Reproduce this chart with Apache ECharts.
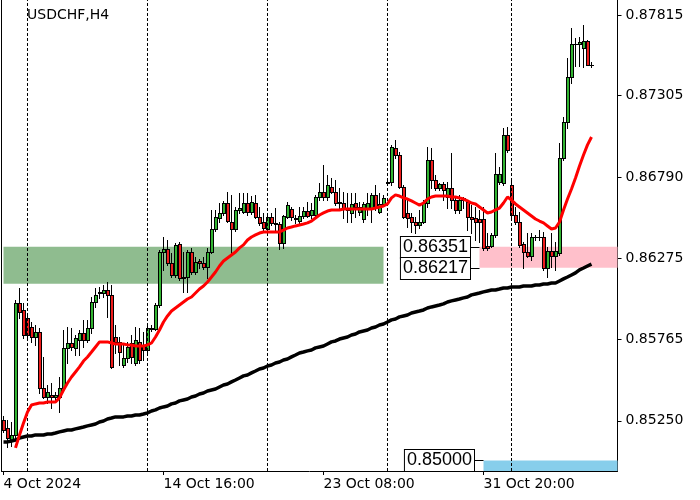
<!DOCTYPE html>
<html><head><meta charset="utf-8">
<script src="https://cdn.jsdelivr.net/npm/echarts@6/dist/echarts.min.js"></script>
<style>html,body{margin:0;padding:0;background:#fff}#c{width:700px;height:500px}</style>
</head><body><div id="c"></div>
<script>
const symbolName = 'USDCHF,H4';

const opens = [
0.85256,0.85205,0.85129,0.85161,0.85995,0.85951,0.85900,0.85843,0.85780,0.85812,
0.85458,0.85401,0.85414,0.85401,0.85401,0.85458,0.85711,0.85742,0.85711,0.85761,
0.85805,0.85761,0.85837,0.86001,0.86065,0.86058,0.86077,0.86046,0.85780,0.85749,
0.85603,0.85647,0.85742,0.85616,0.85749,0.85730,0.85698,0.85831,0.85831,0.85982,
0.86317,0.86336,0.86248,0.86172,0.86368,0.86159,0.86159,0.86317,0.86191,0.86260,
0.86248,0.86223,0.86317,0.86463,0.86532,0.86564,0.86627,0.86507,0.86463,0.86583,
0.86570,0.86627,0.86570,0.86627,0.86539,0.86507,0.86463,0.86539,0.86501,0.86494,
0.86374,0.86539,0.86589,0.86532,0.86513,0.86545,0.86576,0.86551,0.86551,0.86665,
0.86697,0.86665,0.86728,0.86697,0.86633,0.86627,0.86595,0.86564,0.86627,0.86570,
0.86526,0.86595,0.86595,0.86678,0.86570,0.86621,0.86753,0.86760,0.86975,0.86930,
0.86728,0.86564,0.86539,0.86507,0.86488,0.86507,0.86627,0.86899,0.86772,0.86722,
0.86747,0.86665,0.86722,0.86646,0.86583,0.86659,0.86633,0.86539,0.86532,0.86526,
0.86526,0.86355,0.86355,0.86425,0.86760,0.86753,0.87057,0.86741,0.86551,0.86507,
0.86368,0.86317,0.86292,0.86412,0.86412,0.86412,0.86216,0.86324,0.86292,0.86311,
0.86911,0.87139,0.87423,0.87632,0.87632,0.87607,0.87651,0.87499];

const highs = [
0.85281,0.85256,0.85243,0.86014,0.86090,0.85995,0.85932,0.85875,0.85856,0.85837,
0.85654,0.85477,0.85489,0.85433,0.85527,0.85824,0.85843,0.85837,0.85793,0.85824,
0.85888,0.85888,0.86033,0.86090,0.86096,0.86109,0.86128,0.86109,0.85856,0.85780,
0.85730,0.85749,0.85793,0.85843,0.85837,0.85812,0.85869,0.85856,0.85995,0.86330,
0.86412,0.86393,0.86311,0.86374,0.86381,0.86317,0.86330,0.86343,0.86286,0.86273,
0.86286,0.86343,0.86583,0.86583,0.86627,0.86640,0.86697,0.86678,0.86602,0.86690,
0.86690,0.86690,0.86671,0.86678,0.86602,0.86564,0.86551,0.86564,0.86595,0.86507,
0.86551,0.86633,0.86602,0.86551,0.86602,0.86602,0.86633,0.86627,0.86678,0.86753,
0.86867,0.86804,0.86785,0.86772,0.86722,0.86697,0.86690,0.86690,0.86690,0.86633,
0.86633,0.86690,0.86690,0.86741,0.86690,0.86678,0.86772,0.86994,0.87025,0.86949,
0.86741,0.86646,0.86564,0.86539,0.86583,0.86646,0.86981,0.86975,0.86804,0.86753,
0.86760,0.86760,0.86943,0.86665,0.86678,0.86665,0.86646,0.86614,0.86602,0.86583,
0.86602,0.86437,0.86437,0.86943,0.86855,0.87101,0.87107,0.86772,0.86602,0.86570,
0.86381,0.86437,0.86437,0.86425,0.86456,0.86444,0.86349,0.86437,0.86381,0.87006,
0.87171,0.87543,0.87733,0.87670,0.87676,0.87752,0.87657,0.87518];

const lows = [
0.85180,0.85085,0.85091,0.85129,0.85900,0.85774,0.85761,0.85749,0.85730,0.85426,
0.85395,0.85363,0.85331,0.85369,0.85306,0.85445,0.85616,0.85698,0.85666,0.85666,
0.85717,0.85749,0.85805,0.85970,0.86027,0.86033,0.85907,0.85584,0.85679,0.85603,
0.85591,0.85622,0.85616,0.85603,0.85616,0.85635,0.85685,0.85818,0.85824,0.85970,
0.86204,0.86235,0.86159,0.86159,0.86140,0.86065,0.86065,0.86178,0.86178,0.86216,
0.86210,0.86153,0.86311,0.86450,0.86507,0.86551,0.86507,0.86311,0.86450,0.86564,
0.86564,0.86551,0.86557,0.86532,0.86488,0.86444,0.86444,0.86488,0.86444,0.86336,
0.86343,0.86532,0.86520,0.86501,0.86501,0.86532,0.86539,0.86532,0.86539,0.86646,
0.86646,0.86646,0.86690,0.86614,0.86595,0.86532,0.86507,0.86507,0.86539,0.86551,
0.86507,0.86551,0.86507,0.86583,0.86564,0.86614,0.86741,0.86741,0.86911,0.86722,
0.86532,0.86475,0.86444,0.86437,0.86469,0.86501,0.86602,0.86722,0.86709,0.86709,
0.86646,0.86595,0.86595,0.86564,0.86564,0.86595,0.86456,0.86437,0.86393,0.86381,
0.86330,0.86330,0.86349,0.86412,0.86747,0.86741,0.86949,0.86539,0.86494,0.86349,
0.86216,0.86286,0.86267,0.86393,0.86393,0.86204,0.86159,0.86223,0.86204,0.86298,
0.86899,0.87101,0.87385,0.87493,0.87493,0.87487,0.87499,0.87487];

const closes = [
0.85192,0.85142,0.85161,0.85995,0.85938,0.85793,0.85793,0.85780,0.85812,0.85458,
0.85401,0.85433,0.85401,0.85414,0.85458,0.85711,0.85742,0.85717,0.85774,0.85805,
0.85761,0.85837,0.86001,0.86046,0.86058,0.86077,0.86046,0.85591,0.85749,0.85685,
0.85647,0.85717,0.85654,0.85761,0.85635,0.85698,0.85837,0.85837,0.85982,0.86317,
0.86336,0.86248,0.86172,0.86362,0.86153,0.86153,0.86317,0.86191,0.86254,0.86248,
0.86223,0.86317,0.86463,0.86539,0.86564,0.86627,0.86513,0.86463,0.86583,0.86595,
0.86627,0.86570,0.86633,0.86539,0.86501,0.86469,0.86539,0.86501,0.86494,0.86374,
0.86545,0.86614,0.86539,0.86526,0.86545,0.86576,0.86545,0.86583,0.86665,0.86697,
0.86665,0.86741,0.86697,0.86627,0.86627,0.86589,0.86583,0.86621,0.86602,0.86602,
0.86621,0.86627,0.86678,0.86595,0.86621,0.86659,0.86760,0.86981,0.86930,0.86728,
0.86539,0.86532,0.86507,0.86488,0.86507,0.86627,0.86899,0.86772,0.86722,0.86747,
0.86709,0.86722,0.86646,0.86583,0.86646,0.86646,0.86539,0.86526,0.86507,0.86507,
0.86343,0.86343,0.86425,0.86810,0.86810,0.87057,0.86962,0.86551,0.86507,0.86362,
0.86317,0.86292,0.86412,0.86412,0.86412,0.86216,0.86324,0.86292,0.86324,0.86911,
0.87139,0.87423,0.87632,0.87632,0.87645,0.87651,0.87499,0.87502];

// red moving average (first bars have no value)
const maFast = [
null,null,null,0.85079,0.85161,0.85237,0.85306,0.85350,0.85357,0.85363,
0.85363,0.85369,0.85369,0.85369,0.85395,0.85445,0.85489,0.85527,0.85559,0.85591,
0.85628,0.85654,0.85685,0.85717,0.85749,0.85749,0.85749,0.85742,0.85736,0.85736,
0.85736,0.85730,0.85730,0.85723,0.85723,0.85723,0.85730,0.85742,0.85780,0.85824,
0.85875,0.85913,0.85944,0.85963,0.85982,0.86001,0.86020,0.86033,0.86058,0.86083,
0.86102,0.86128,0.86159,0.86191,0.86229,0.86260,0.86279,0.86298,0.86317,0.86343,
0.86362,0.86393,0.86412,0.86425,0.86437,0.86444,0.86444,0.86444,0.86444,0.86444,
0.86456,0.86469,0.86475,0.86482,0.86488,0.86494,0.86501,0.86513,0.86532,0.86551,
0.86564,0.86576,0.86583,0.86583,0.86583,0.86589,0.86589,0.86589,0.86589,0.86589,
0.86589,0.86589,0.86589,0.86595,0.86602,0.86608,0.86621,0.86659,0.86678,0.86671,
0.86659,0.86652,0.86640,0.86627,0.86614,0.86627,0.86652,0.86665,0.86671,0.86671,
0.86671,0.86671,0.86665,0.86665,0.86659,0.86652,0.86640,0.86627,0.86621,0.86602,
0.86583,0.86564,0.86570,0.86583,0.86595,0.86627,0.86665,0.86646,0.86621,0.86602,
0.86583,0.86564,0.86545,0.86526,0.86513,0.86501,0.86482,0.86463,0.86469,0.86507,
0.86583,0.86652,0.86715,0.86785,0.86861,0.86930,0.86994,0.87044];

// black moving average
const maSlow = [
0.85117,0.85117,0.85123,0.85129,0.85142,0.85148,0.85154,0.85154,0.85161,0.85161,
0.85161,0.85167,0.85167,0.85173,0.85180,0.85186,0.85192,0.85192,0.85199,0.85205,
0.85211,0.85218,0.85224,0.85230,0.85243,0.85249,0.85262,0.85268,0.85275,0.85275,
0.85275,0.85281,0.85281,0.85287,0.85287,0.85293,0.85300,0.85312,0.85319,0.85331,
0.85338,0.85344,0.85357,0.85363,0.85376,0.85382,0.85388,0.85401,0.85407,0.85420,
0.85426,0.85439,0.85445,0.85451,0.85464,0.85477,0.85483,0.85496,0.85508,0.85521,
0.85534,0.85540,0.85553,0.85565,0.85578,0.85584,0.85597,0.85603,0.85616,0.85622,
0.85635,0.85641,0.85654,0.85666,0.85679,0.85685,0.85692,0.85698,0.85711,0.85717,
0.85723,0.85736,0.85749,0.85755,0.85767,0.85774,0.85780,0.85793,0.85799,0.85812,
0.85818,0.85824,0.85837,0.85843,0.85856,0.85862,0.85875,0.85888,0.85894,0.85907,
0.85913,0.85919,0.85932,0.85938,0.85944,0.85951,0.85963,0.85970,0.85976,0.85982,
0.85989,0.86001,0.86008,0.86014,0.86020,0.86027,0.86033,0.86046,0.86052,0.86058,
0.86065,0.86071,0.86077,0.86077,0.86083,0.86090,0.86090,0.86096,0.86096,0.86096,
0.86102,0.86102,0.86102,0.86109,0.86109,0.86115,0.86115,0.86121,0.86121,0.86134,
0.86147,0.86159,0.86172,0.86185,0.86204,0.86216,0.86229,0.86241];

const emptyBarsRight = 6;
const xTickBars = [0, 40, 80, 120];
const xTickLabels = ['4 Oct 2024', '14 Oct 16:00', '23 Oct 08:00', '31 Oct 20:00'];
const weekStartBars = [6, 36, 66, 96, 127];
const yTickValues = [0.85250, 0.85765, 0.86275, 0.86790, 0.87305, 0.87815];
const yMin = 0.84933, yMax = 0.87910;
const bidPrice = 0.87502;

// rectangles (bar index from/to, price top/bottom); a "to" beyond the last bar means open-ended
const zoneFromBar = [0, 119, 120];
const zoneToBar = [95, 170, 170];
const zoneTop = [0.86351, 0.86351, 0.85000];
const zoneBottom = [0.86117, 0.86217, 0.84800];
const zoneColors = ['#8fbc8f', '#ffc0cb', '#87ceeb'];

// price tags
const tagBars = [119, 119, 120];
const tagPrices = [0.86351, 0.86217, 0.85000];

const categories = Array.from({length: opens.length + emptyBarsRight}, (_, i) => String(i));
const candleData = opens.map((o, i) => [i, o, closes[i], lows[i], highs[i]]);
const zoneData = zoneFromBar.map((f, i) => [f, zoneToBar[i], zoneTop[i], zoneBottom[i]]);
const tagData = tagBars.map((b, i) => [b, tagPrices[i]]);

const FONT = 'DejaVu Sans';
const BULL = '#32b432', BEAR = '#ee1c1c';
const chart = echarts.init(document.getElementById('c'), null, {renderer: 'canvas'});
chart.setOption({
  animation: false,
  backgroundColor: '#fff',
  title: {text: symbolName, left: 27, top: 8, padding: 0,
    textStyle: {fontFamily: FONT, fontSize: 14, fontWeight: 'normal', color: '#000'}},
  grid: {left: 1.5, right: 82.5, top: 0, bottom: 29, containLabel: false, outerBoundsMode: 'none'},
  xAxis: {
    type: 'category', data: categories, boundaryGap: true,
    axisLine: {show: true, onZero: false, lineStyle: {color: '#000', width: 1}},
    axisTick: {show: true, alignWithLabel: true, interval: (i) => xTickBars.includes(i), length: 4, lineStyle: {color: '#000'}},
    axisLabel: {interval: (i) => xTickBars.includes(i),
      formatter: (v, i) => xTickLabels[xTickBars.indexOf(i)] || '',
      align: 'left', margin: 6, color: '#000', fontFamily: FONT, fontSize: 14},
    splitLine: {show: false}
  },
  yAxis: [{
    type: 'value', position: 'right', min: yMin, max: yMax, scale: true,
    axisLine: {show: true, lineStyle: {color: '#000', width: 1}},
    axisTick: {show: true, customValues: yTickValues, length: 4, lineStyle: {color: '#000'}},
    axisLabel: {customValues: yTickValues, formatter: (v) => v.toFixed(5), color: '#000', fontFamily: FONT, fontSize: 14, margin: 8},
    splitLine: {show: false}
  }, {
    type: 'value', position: 'left', min: yMin, max: yMax, scale: true,
    axisLine: {show: true, lineStyle: {color: '#000', width: 1}},
    axisTick: {show: false}, axisLabel: {show: false}, splitLine: {show: false}
  }],
  series: [
    {
      type: 'custom', name: 'zones', z: 1, data: zoneData,
      encode: {x: [0, 1], y: [2, 3]},
      renderItem: (params, api) => {
        const a = api.coord([api.value(0), api.value(2)]);
        const b = api.coord([api.value(1), api.value(3)]);
        const cs = params.coordSys;
        const r = echarts.graphic.clipRectByRect(
          {x: a[0], y: a[1], width: b[0] - a[0], height: b[1] - a[1]},
          {x: cs.x, y: cs.y, width: cs.width, height: cs.height});
        return r && {type: 'rect', shape: r, style: {fill: zoneColors[params.dataIndex]}};
      }
    },
    {
      type: 'line', name: 'markers', z: 2, data: [], silent: true,
      markLine: {
        silent: true, symbol: ['none', 'none'], animation: false,
        data: weekStartBars.map(b => ({xAxis: b, lineStyle: {color: '#000', type: [3, 2], width: 1}, label: {show: false}}))
          .concat([{yAxis: bidPrice, lineStyle: {color: '#c0c0c0', type: 'solid', width: 1},
            label: {show: true, position: 'end', distance: 2, formatter: () => bidPrice.toFixed(5),
              color: '#fff', backgroundColor: '#000', padding: [2, 5, 2, 7], fontFamily: FONT, fontSize: 14}}])
      }
    },
    {
      type: 'custom', name: 'USDCHF', z: 3, data: candleData,
      encode: {x: 0, y: [1, 2, 3, 4]},
      renderItem: (params, api) => {
        const i = api.value(0), o = api.value(1), c = api.value(2), l = api.value(3), h = api.value(4);
        const pO = api.coord([i, o]), pC = api.coord([i, c]);
        const pL = api.coord([i, l]), pH = api.coord([i, h]);
        const px = Math.floor(pO[0]);
        const top = Math.round(Math.min(pO[1], pC[1]));
        const bot = Math.round(Math.max(pO[1], pC[1]));
        const children = [
          {type: 'rect', shape: {x: px, y: Math.round(pH[1]), width: 1, height: Math.round(pL[1]) - Math.round(pH[1]) + 1},
            style: {fill: '#000'}}
        ];
        // body: 1px black frame around a 2px wide fill
        children.push({type: 'rect', shape: {x: px - 1, y: top, width: 4, height: bot - top + 1}, style: {fill: '#000'}});
        if (bot - top >= 2) {
          children.push({type: 'rect', shape: {x: px, y: top + 1, width: 2, height: bot - top - 1},
            style: {fill: c >= o ? BULL : BEAR}});
        }
        return {type: 'group', children};
      }
    },
    {
      type: 'line', name: 'MA slow', z: 4, data: maSlow, symbol: 'none', smooth: false,
      lineStyle: {color: '#000', width: 3.5}
    },
    {
      type: 'line', name: 'MA fast', z: 5, data: maFast, symbol: 'none', smooth: false, connectNulls: false,
      lineStyle: {color: '#ff0000', width: 3}
    },
    {
      type: 'custom', name: 'tags', z: 6, data: tagData, encode: {x: 0, y: 1},
      renderItem: (params, api) => {
        const p = api.coord([api.value(0), api.value(1)]);
        const y = Math.round(p[1]) + 0.5;
        const x = p[0];
        const gap = 9.5;
        return {type: 'group', children: [
          {type: 'line', shape: {x1: x - gap, y1: y, x2: x, y2: y}, style: {stroke: '#000', lineWidth: 1}},
          {type: 'text', x: x - gap, y: y, style: {text: api.value(1).toFixed(5), align: 'right', verticalAlign: 'middle',
            fill: '#000', fontFamily: 'Liberation Sans', fontSize: 18, lineHeight: 19,
            backgroundColor: '#fff', borderColor: '#000', borderWidth: 1, padding: [1, 2, 1, 2]}}
        ]};
      }
    }
  ]
});
</script></body></html>
